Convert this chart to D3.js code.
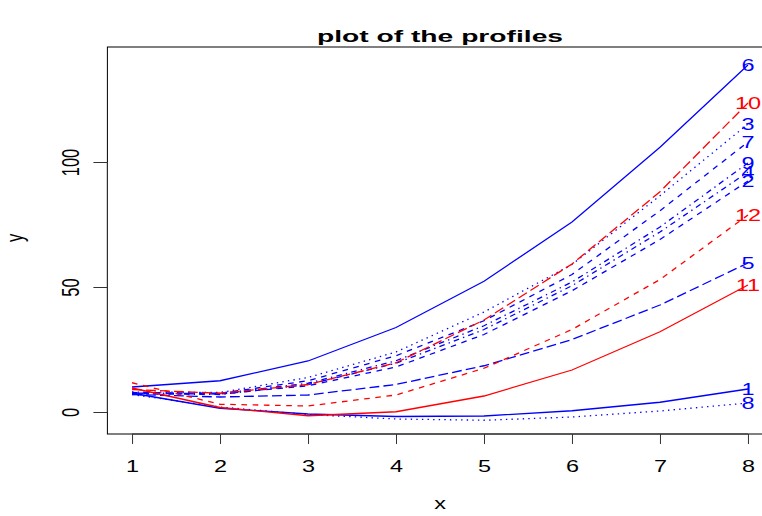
<!DOCTYPE html>
<html>
<head>
<meta charset="utf-8">
<script src="https://cdn.jsdelivr.net/npm/d3@7"></script>
<style>
  body { margin: 0; background: #fff; }
  text { font-family: "Liberation Sans", Arial, Helvetica, sans-serif; }
</style>
</head>
<body>
<div id="chart"></div>
<script>
// time points and one array per profile
const times = [1, 2, 3, 4, 5, 6, 7, 8];
const p1  = [7.5, 1.5, -0.8, -1.8, -1.6, 0.5, 3.9, 9.2];
const p2  = [7.4, 7.2, 10.5, 18.0, 31.0, 48.5, 69.0, 92.4];
const p3  = [8.0, 7.8, 13.8, 24.0, 40.0, 59.0, 86.5, 115.2];
const p4  = [7.3, 7.0, 11.0, 19.5, 33.0, 50.5, 72.0, 96.0];
const p5  = [7.0, 6.0, 6.8, 11.0, 18.5, 29.0, 42.8, 59.6];
const p6  = [10.0, 12.5, 20.4, 33.8, 52.3, 76.0, 105.9, 138.8];
const p7  = [7.8, 7.5, 12.5, 22.5, 36.5, 55.0, 80.5, 108.0];
const p8  = [7.0, 2.0, -1.0, -2.8, -3.3, -2.0, 0.4, 3.6];
const p9  = [7.6, 7.4, 11.5, 20.5, 34.5, 52.0, 74.0, 99.6];
const p10 = [9.0, 7.5, 11.0, 19.7, 36.8, 59.2, 88.1, 123.6];
const p11 = [9.6, 1.8, -1.5, 0.1, 6.4, 16.8, 32.1, 50.8];
const p12 = [11.7, 3.1, 2.4, 6.8, 17.5, 33.0, 53.0, 78.8];
const profileLabels = ["1", "2", "3", "4", "5", "6", "7", "8", "9", "10", "11", "12"];
const xTicks = [1, 2, 3, 4, 5, 6, 7, 8];
const yTicks = [0, 50, 100];

const profiles = [p1, p2, p3, p4, p5, p6, p7, p8, p9, p10, p11, p12];

// styles: colour by group, line type cycles like matplot's lty = 1:5
const lineColors = ["#0000ff", "#0000ff", "#0000ff", "#0000ff", "#0000ff", "#0000ff",
                    "#0000ff", "#0000ff", "#0000ff", "#ff0000", "#ff0000", "#ff0000"];
const u = 1.4;
const ltys = [null, `${4*u},${4*u}`, `${1*u},${3*u}`, `${1*u},${3*u},${4*u},${3*u}`, `${7*u},${3*u}`];

const W = 762, H = 516;
const SX = 1.42; // the original picture is stretched sideways, text too

const svg = d3.select("#chart").append("svg")
  .attr("width", W)
  .attr("height", H);

const x = d3.scaleLinear().domain([0.72, 8.28]).range([107.4, 772.6]);
const y = d3.scaleLinear().domain([-8.8, 146]).range([434, 47]);

// box
svg.append("rect")
  .attr("x", x.range()[0]).attr("y", 47)
  .attr("width", x.range()[1] - x.range()[0]).attr("height", 434 - 47)
  .attr("fill", "none").attr("stroke", "#000").attr("stroke-width", 1);

// x axis
const xAxis = svg.append("g").attr("transform", "translate(0,434)")
  .call(d3.axisBottom(x).tickValues(xTicks).tickSize(10).tickSizeOuter(0).tickFormat(d3.format("d")));
xAxis.select(".domain").attr("d", `M${x(1)},0H${x(8)}`).attr("stroke", "#333");
xAxis.selectAll(".tick line").attr("stroke", "#333");
xAxis.selectAll(".tick text").remove();
xAxis.selectAll(".tick").append("text")
  .attr("transform", `translate(0,38) scale(${SX},1)`)
  .attr("text-anchor", "middle")
  .attr("font-size", 16.5)
  .attr("fill", "#000")
  .text(d => d);

// y axis
const yAxis = svg.append("g").attr("transform", `translate(${x.range()[0]},0)`)
  .call(d3.axisLeft(y).tickValues(yTicks).tickSize(14).tickSizeOuter(0));
yAxis.select(".domain").attr("d", `M0,${y(0)}V${y(100)}`).attr("stroke", "#333");
yAxis.selectAll(".tick line").attr("stroke", "#333");
yAxis.selectAll(".tick text").remove();
yAxis.selectAll(".tick").append("text")
  .attr("transform", `translate(-28,0) scale(${SX},1) rotate(-90)`)
  .attr("text-anchor", "middle")
  .attr("font-size", 16.5)
  .attr("fill", "#000")
  .text(d => d);

// profile lines
const line = d3.line()
  .x((d, i) => x(times[i]))
  .y(d => y(d));

const plot = svg.append("g");
plot.selectAll("path.profile")
  .data(profiles)
  .enter()
  .append("path")
  .attr("class", "profile")
  .attr("d", d => line(d))
  .attr("fill", "none")
  .attr("stroke", (d, i) => lineColors[i])
  .attr("stroke-width", 1.3)
  .attr("stroke-dasharray", (d, i) => ltys[i % 5]);

// number at the end of each profile
plot.selectAll("text.lab")
  .data(profiles)
  .enter()
  .append("text")
  .attr("class", "lab")
  .attr("transform", d => `translate(${x(times[times.length - 1])},${y(d[d.length - 1]) + 6}) scale(${SX},1)`)
  .attr("text-anchor", "middle")
  .attr("font-size", 16.5)
  .attr("fill", (d, i) => lineColors[i])
  .text((d, i) => profileLabels[i]);

// titles
svg.append("text")
  .attr("transform", `translate(440,42) scale(1.68,1)`)
  .attr("text-anchor", "middle")
  .attr("font-size", 16.8)
  .attr("font-weight", "bold")
  .text("plot of the profiles");

svg.append("text")
  .attr("transform", `translate(440,509) scale(${SX},1)`)
  .attr("text-anchor", "middle")
  .attr("font-size", 16.5)
  .text("x");

svg.append("text")
  .attr("transform", `translate(23,238) scale(${SX},1) rotate(-90)`)
  .attr("text-anchor", "middle")
  .attr("font-size", 16.5)
  .text("y");
</script>
</body>
</html>
